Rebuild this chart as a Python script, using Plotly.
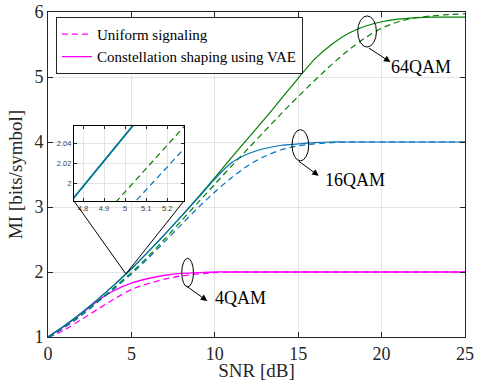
import plotly.graph_objects as go

# ---------------- data ----------------
snr = list(range(0, 26))

qam4_uniform = [0.99, 1.11, 1.27, 1.43, 1.59, 1.73, 1.82, 1.89, 1.94, 1.97, 1.99, 2.0, 2.0,
                2.0, 2.0, 2.0, 2.0, 2.0, 2.0, 2.0, 2.0, 2.0, 2.0, 2.0, 2.0, 2.0]
qam4_vae = [1.0, 1.17, 1.36, 1.56, 1.72, 1.83, 1.90, 1.95, 1.98, 1.99, 2.0, 2.0, 2.0,
            2.0, 2.0, 2.0, 2.0, 2.0, 2.0, 2.0, 2.0, 2.0, 2.0, 2.0, 2.0, 2.0]
qam16_uniform = [0.99, 1.15, 1.33, 1.54, 1.75, 1.97, 2.21, 2.47, 2.73, 2.99, 3.23, 3.45, 3.64,
                 3.78, 3.88, 3.94, 3.97, 3.99, 4.0, 4.0, 4.0, 4.0, 4.0, 4.0, 4.0, 4.0]
qam16_vae = [1.0, 1.176, 1.37, 1.583, 1.81, 2.05, 2.31, 2.58, 2.86, 3.14, 3.43, 3.68, 3.82,
             3.90, 3.95, 3.97, 3.99, 4.0, 4.0, 4.0, 4.0, 4.0, 4.0, 4.0, 4.0, 4.0]
qam64_uniform = [0.99, 1.15, 1.34, 1.55, 1.77, 1.99, 2.24, 2.51, 2.79, 3.07, 3.35, 3.63, 3.90,
                 4.17, 4.44, 4.70, 4.95, 5.19, 5.41, 5.60, 5.75, 5.85, 5.91, 5.94, 5.96, 5.97]
qam64_vae = [1.0, 1.176, 1.37, 1.583, 1.81, 2.05, 2.31, 2.58, 2.86, 3.15, 3.45, 3.76, 4.06,
             4.36, 4.67, 4.98, 5.28, 5.50, 5.67, 5.78, 5.85, 5.89, 5.91, 5.92, 5.92, 5.92]

# inset (zoom around SNR = 5 dB)
inset_snr = [4.7, 5.3]
inset_vae = [1.972, 2.124]
inset_64_uniform = [1.923, 2.061]
inset_16_uniform = [1.904, 2.039]

x_ticks = [0, 5, 10, 15, 20, 25]
y_ticks = [1, 2, 3, 4, 5, 6]
inset_x_ticks = [4.8, 4.9, 5.0, 5.1, 5.2]
inset_x_labels = ["4.8", "4.9", "5", "5.1", "5.2"]
inset_y_ticks = [2.0, 2.02, 2.04]
inset_y_labels = ["2", "2.02", "2.04"]

# ---------------- styling ----------------
MAGENTA = "#FF00FF"
BLUE = "#0072BD"
GREEN = "#008000"
DASH = "6px,4px"
LW = 1.2
SERIF = "Liberation Serif, Times New Roman, serif"
SANS = "Liberation Sans, Arial, sans-serif"

fig = go.Figure()

def add(x, y, color, dash, name=None, show=False, xa="x", ya="y", width=LW):
    fig.add_trace(go.Scatter(
        x=x, y=y, mode="lines", name=name, showlegend=show,
        line=dict(color=color, width=width, dash=dash, shape="spline", smoothing=0.8),
        xaxis=xa, yaxis=ya, hoverinfo="skip"))

# main curves
add(snr, qam4_uniform, MAGENTA, DASH, "Uniform signaling", True, width=1.3)
add(snr, qam4_vae, MAGENTA, "solid", "Constellation shaping using VAE", True, width=1.3)
add(snr, qam64_uniform, GREEN, DASH)
add(snr, qam16_uniform, BLUE, DASH)
add(snr, qam64_vae, GREEN, "solid")
add(snr, qam16_vae, BLUE, "solid")

# inset curves
add(inset_snr, inset_64_uniform, GREEN, DASH, xa="x2", ya="y2")
add(inset_snr, inset_16_uniform, BLUE, DASH, xa="x2", ya="y2")
add(inset_snr, inset_vae, GREEN, "solid", xa="x2", ya="y2", width=1.6)
add(inset_snr, inset_vae, BLUE, "solid", xa="x2", ya="y2", width=1.4)

# ---------------- layout ----------------
X_RANGE = [0, 25]
Y_RANGE = [1, 6]
INSET_X_RANGE = [4.757, 5.28]
INSET_Y_RANGE = [1.983, 2.057]
INSET_DOM_X = [0.0624, 0.326]
INSET_DOM_Y = [0.4185, 0.649]

axis_common = dict(showline=True, linecolor="#262626", linewidth=1, mirror="ticks",
                   ticks="inside", ticklen=5, tickcolor="#262626", showgrid=True,
                   gridcolor="#e3e3e3", gridwidth=1, zeroline=False,
                   tickfont=dict(family=SERIF, size=18, color="#262626"))

fig.update_layout(
    width=479, height=381,
    margin=dict(l=48, r=14, t=12, b=44),
    paper_bgcolor="white", plot_bgcolor="white",
    xaxis=dict(range=X_RANGE, tickvals=x_ticks, domain=[0, 1], automargin=False,
               title=dict(text="SNR [dB]", font=dict(family=SERIF, size=19, color="#262626"), standoff=0),
               **axis_common),
    yaxis=dict(range=Y_RANGE, tickvals=y_ticks, domain=[0, 1], automargin=False,
               title=dict(text="MI [bits/symbol]", font=dict(family=SERIF, size=19, color="#262626"), standoff=6),
               **axis_common),
    xaxis2=dict(range=INSET_X_RANGE, domain=INSET_DOM_X, anchor="y2",
                tickvals=inset_x_ticks, ticktext=inset_x_labels,
                showline=True, linecolor="black", linewidth=1.2, mirror="ticks",
                ticks="inside", ticklen=3, tickcolor="#262626",
                showgrid=True, gridcolor="#e3e3e3", zeroline=False,
                tickfont=dict(family=SANS, size=7.5, color="#404040")),
    yaxis2=dict(range=INSET_Y_RANGE, domain=INSET_DOM_Y, anchor="x2",
                tickvals=inset_y_ticks, ticktext=inset_y_labels,
                showline=True, linecolor="black", linewidth=1.2, mirror="ticks",
                ticks="inside", ticklen=3, tickcolor="#262626",
                showgrid=True, gridcolor="#e3e3e3", zeroline=False,
                tickfont=dict(family=SANS, size=7.5, color="#404040")),
    legend=dict(x=0.019, y=0.985, xanchor="left", yanchor="top",
                bgcolor="white", bordercolor="#262626", borderwidth=1,
                font=dict(family=SERIF, size=15, color="black"),
                itemwidth=30, tracegroupgap=0),
    showlegend=True,
)

shapes = []
# white backdrop for the inset (covers main gridlines, under inset grid)
shapes.append(dict(type="rect", xref="x2", yref="y2", layer="below",
                   x0=INSET_X_RANGE[0], x1=INSET_X_RANGE[1],
                   y0=INSET_Y_RANGE[0], y1=INSET_Y_RANGE[1],
                   fillcolor="white", line=dict(width=0)))

# lines from inset corners to the zoomed spot
zoom_spot = (4.67, 1.97)
corner_y = Y_RANGE[0] + INSET_DOM_Y[0] * (Y_RANGE[1] - Y_RANGE[0])
for dx in INSET_DOM_X:
    cx = X_RANGE[0] + dx * (X_RANGE[1] - X_RANGE[0])
    shapes.append(dict(type="line", xref="x", yref="y", x0=cx, y0=corner_y,
                       x1=zoom_spot[0], y1=zoom_spot[1], line=dict(color="black", width=1)))

# ellipses marking each modulation
ellipses = [(8.37, 1.99, 0.35, 0.22), (15.13, 3.95, 0.50, 0.24), (19.13, 5.70, 0.56, 0.24)]
for cx, cy, rx, ry in ellipses:
    shapes.append(dict(type="circle", xref="x", yref="y", x0=cx - rx, x1=cx + rx,
                       y0=cy - ry, y1=cy + ry, line=dict(color="black", width=1)))
fig.update_layout(shapes=shapes)

# arrows and labels
labels = [
    ("4QAM", (8.21, 1.80), (9.55, 1.554), (11.55, 1.60)),
    ("16QAM", (14.95, 3.72), (16.23, 3.48), (18.43, 3.41)),
    ("64QAM", (19.15, 5.46), (20.53, 5.23), (22.37, 5.16)),
]
for txt, tail, head, pos in labels:
    fig.add_annotation(x=head[0], y=head[1], ax=tail[0], ay=tail[1], xref="x", yref="y",
                       axref="x", ayref="y", text="", showarrow=True, arrowhead=2,
                       arrowsize=1.3, arrowwidth=1, arrowcolor="black")
    fig.add_annotation(x=pos[0], y=pos[1], xref="x", yref="y", text=txt, showarrow=False,
                       font=dict(family=SERIF, size=18, color="black"))

# remove the browser's default 8 px body margin so the figure fills the window exactly
fig.write_html("out.html", config={"displayModeBar": False},
               post_script="document.body.style.margin='0px';")
